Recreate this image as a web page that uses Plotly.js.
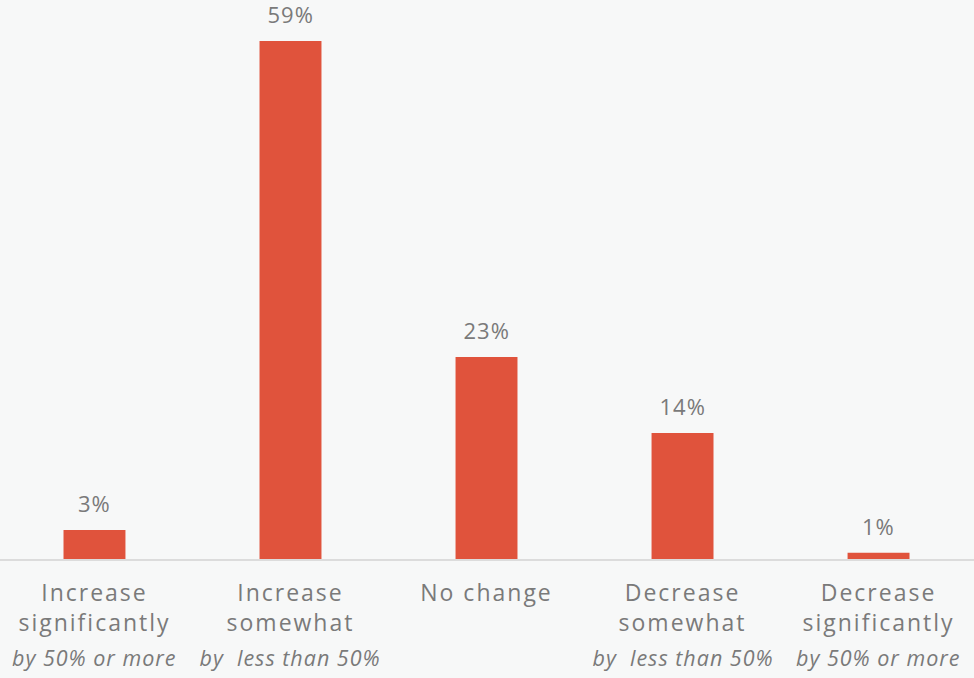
<!DOCTYPE html>
<html>
<head>
<meta charset="utf-8">
<script src="https://cdn.plot.ly/plotly-3.0.1.min.js"></script>
<style>
html,body{margin:0;padding:0;background:#f7f8f8;}
#chart{width:974px;height:678px;}
#chart .xtick text{letter-spacing:2px;}
#chart .annotation text{letter-spacing:1px;}
</style>
</head>
<body>
<div id="chart"></div>
<script>
const categories = ["Increase significantly", "Increase somewhat", "No change", "Decrease somewhat", "Decrease significantly"];
const tickLabels = ["Increase<br>significantly", "Increase<br>somewhat", "No change", "Decrease<br>somewhat", "Decrease<br>significantly"];
const subLabels = ["by 50% or more", "by  less than 50%", "", "by  less than 50%", "by 50% or more"];
// bar heights (labels are rounded)
const values = [3.3, 59, 23, 14.35, 0.7];
const valueLabels = ["3%", "59%", "23%", "14%", "1%"];

const textColor = "#7a7a7a";
const barColor = "#e0533c";
const fontFamily = "'Open Sans', sans-serif";

const trace = {
  type: "bar",
  x: categories,
  y: values,
  width: 0.316,
  marker: {color: barColor},
  hoverinfo: "none"
};

const annotations = [];
categories.forEach((c, i) => {
  annotations.push({
    x: c, y: values[i], xref: "x", yref: "y",
    text: valueLabels[i], showarrow: false,
    yanchor: "bottom", yshift: 10,
    font: {family: fontFamily, size: 22, color: textColor}
  });
  if (subLabels[i]) {
    annotations.push({
      x: c, y: 0, xref: "x", yref: "paper",
      text: "<i>" + subLabels[i] + "</i>", showarrow: false,
      yanchor: "middle", yshift: -98,
      font: {family: fontFamily, size: 21.5, color: textColor}
    });
  }
});

const layout = {
  width: 974, height: 678,
  margin: {l: 0, r: 0, t: 0, b: 119},
  paper_bgcolor: "#f7f8f8",
  plot_bgcolor: "#f7f8f8",
  showlegend: false,
  xaxis: {
    type: "category",
    range: [-0.482, 4.487],
    tickmode: "array",
    tickvals: categories,
    ticktext: tickLabels,
    ticks: "",
    ticklabelstandoff: 12,
    showline: true, linecolor: "#dcdcdc", linewidth: 2,
    showgrid: false, zeroline: false,
    tickfont: {family: fontFamily, size: 23, color: textColor},
    fixedrange: true
  },
  yaxis: {
    range: [0, 63.67],
    visible: false,
    showgrid: false, zeroline: false,
    fixedrange: true
  },
  annotations: annotations
};

Plotly.newPlot("chart", [trace], layout, {displayModeBar: false, staticPlot: true});
</script>
</body>
</html>
